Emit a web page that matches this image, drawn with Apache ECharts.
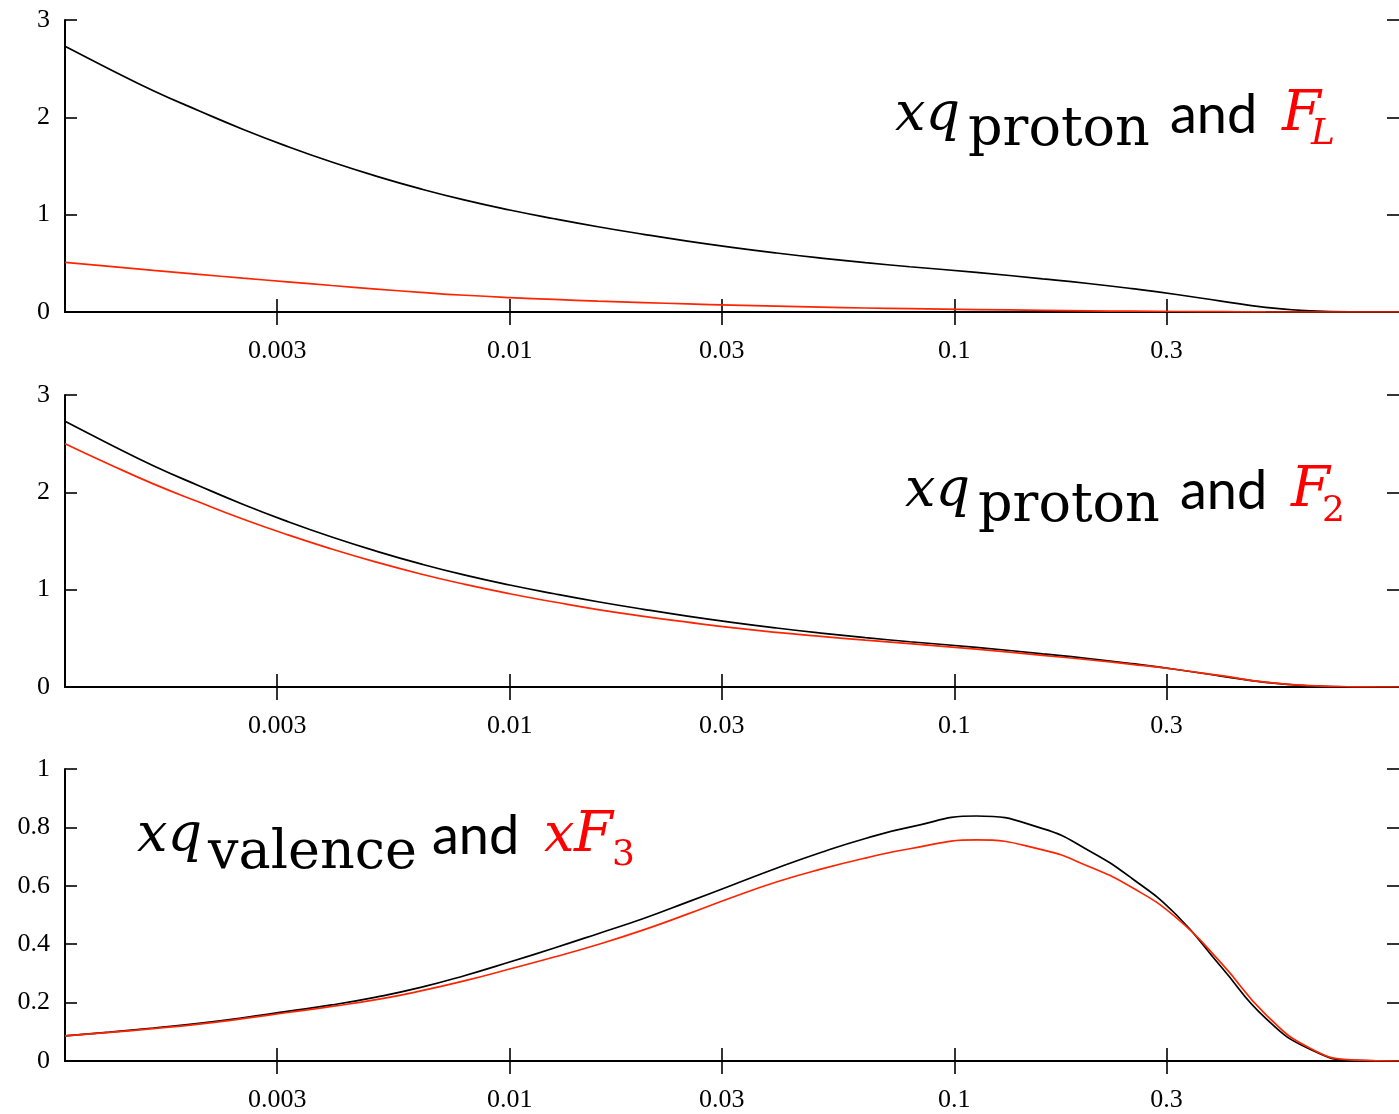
<!DOCTYPE html>
<html>
<head>
<meta charset="utf-8">
<script src="https://cdn.jsdelivr.net/npm/echarts@6/dist/echarts.min.js"></script>
<style>
html,body{margin:0;padding:0;background:#fff;}
#c{width:1399px;height:1114px;}
</style>
</head>
<body>
<div id="c"></div>
<script>
// Bjorken-x sample points
const xValues = [0.001, 0.00126, 0.00158, 0.002, 0.00251, 0.00316, 0.00398, 0.00501, 0.00631, 0.00794,
  0.01, 0.0126, 0.0158, 0.02, 0.0251, 0.0316, 0.0398, 0.0501, 0.0631, 0.0794,
  0.112, 0.158, 0.2, 0.251, 0.316, 0.398, 0.501, 0.631, 0.794, 1.0];
// panel 1 & 2 black: x q_proton
const xqProton = [2.73, 2.495, 2.274, 2.068, 1.878, 1.702, 1.541, 1.396, 1.265, 1.149,
  1.048, 0.958, 0.876, 0.798, 0.728, 0.664, 0.606, 0.554, 0.507, 0.465,
  0.407, 0.341, 0.293, 0.24, 0.18, 0.112, 0.048, 0.012, 0.001, 0];
// panel 1 red: F_L
const FL = [0.51, 0.468, 0.427, 0.387, 0.348, 0.31, 0.272, 0.236, 0.202, 0.172,
  0.148, 0.129, 0.112, 0.097, 0.083, 0.071, 0.06, 0.05, 0.041, 0.034,
  0.025, 0.017, 0.012, 0.008, 0.005, 0.003, 0.001, 0, 0, 0];
// panel 2 red: F_2
const F2 = [2.50, 2.287, 2.087, 1.90, 1.726, 1.565, 1.418, 1.283, 1.161, 1.054,
  0.958, 0.873, 0.795, 0.726, 0.666, 0.61, 0.562, 0.52, 0.481, 0.445,
  0.389, 0.325, 0.28, 0.233, 0.18, 0.116, 0.05, 0.014, 0.002, 0];
// panel 3 black: x q_valence
const xqValence = [0.086, 0.099, 0.113, 0.129, 0.148, 0.17, 0.192, 0.219, 0.252, 0.293,
  0.339, 0.387, 0.436, 0.488, 0.544, 0.602, 0.66, 0.714, 0.762, 0.801,
  0.839, 0.796, 0.722, 0.625, 0.50, 0.323, 0.147, 0.04, 0.002, 0];
// panel 3 red: x F_3
const xF3 = [0.086, 0.098, 0.111, 0.126, 0.145, 0.166, 0.187, 0.21, 0.24, 0.275,
  0.315, 0.356, 0.399, 0.449, 0.503, 0.56, 0.613, 0.657, 0.695, 0.727,
  0.757, 0.723, 0.667, 0.594, 0.49, 0.336, 0.16, 0.044, 0.003, 0];

const xTickValues = [0.003, 0.01, 0.03, 0.1, 0.3];
const xTickLabels = ['0.003', '0.01', '0.03', '0.1', '0.3'];

const panelTops = [20, 395, 769];
const panelYMax = [3, 3, 1];
const panelYInterval = [1, 1, 0.2];
const panelBlack = [xqProton, xqProton, xqValence];
const panelRed = [FL, F2, xF3];

const BLACK = '#000000';
const RED = '#ff2400';
const TEXT_RED = '#ff0000';

function pairs(vals) { return xValues.map((x, i) => [x, vals[i]]); }
function xLabel(v) {
  let best = 0, bd = Infinity;
  xTickValues.forEach((t, i) => { const d = Math.abs(Math.log10(v) - Math.log10(t)); if (d < bd) { bd = d; best = i; } });
  return xTickLabels[best];
}

const grids = [], xAxes = [], yAxes = [], series = [];
panelTops.forEach((top, i) => {
  grids.push({ left: 65, right: -3, top: top, height: 292, containLabel: false });
  const xCommon = {
    type: 'log', logBase: 10, gridIndex: i, min: 0.001, max: 1,
    axisLine: { show: true, lineStyle: { color: BLACK, width: 2 } },
    axisTick: { show: true, inside: true, length: 13, lineStyle: { color: BLACK, width: 1.6 }, customValues: xTickValues },
    splitLine: { show: false }, minorTick: { show: false }
  };
  xAxes.push(Object.assign({}, xCommon, {
    position: 'bottom',
    axisLabel: { show: true, customValues: xTickValues, formatter: xLabel, margin: 26,
      fontFamily: 'Liberation Serif', fontSize: 26, color: BLACK }
  }));
  xAxes.push(Object.assign({}, xCommon, { position: 'top', axisLabel: { show: false } }));
  const yCommon = {
    type: 'value', gridIndex: i, min: 0, max: panelYMax[i], interval: panelYInterval[i],
    splitLine: { show: false },
    axisTick: { show: true, inside: true, length: 12, lineStyle: { color: BLACK, width: 1.6 } }
  };
  yAxes.push(Object.assign({}, yCommon, {
    position: 'left',
    axisLine: { show: true, lineStyle: { color: BLACK, width: 2 } },
    axisLabel: { show: true, margin: 15, fontFamily: 'Liberation Serif', fontSize: 26, color: BLACK }
  }));
  yAxes.push(Object.assign({}, yCommon, {
    position: 'right',
    axisLine: { show: false },
    axisLabel: { show: false }
  }));
  [[panelBlack[i], BLACK], [panelRed[i], RED]].forEach(([vals, col]) => {
    series.push({
      type: 'line', xAxisIndex: 2 * i, yAxisIndex: 2 * i,
      data: pairs(vals), showSymbol: false, smooth: 0.5, clip: true,
      lineStyle: { color: col, width: 1.7 }, itemStyle: { color: col }
    });
  });
});

function txt(text, x, baseline, size, family, style, color) {
  const mid = baseline - 0.3 * size;
  return { type: 'text', x: x, y: mid, z: 100,
    style: { text: text, fill: color, fontSize: size, fontFamily: family, fontStyle: style,
      align: 'left', verticalAlign: 'middle' } };
}
const SERIF = 'DejaVu Serif';
const SANS = 'Lato';
const graphics = [
  // panel 1
  txt('xq', 895, 132, 54, SERIF, 'italic', BLACK),
  txt('proton', 968, 147, 54, SERIF, 'normal', BLACK),
  txt('and', 1170, 132, 54, SANS, 'normal', BLACK),
  txt('F', 1282, 132, 56, SERIF, 'italic', TEXT_RED),
  txt('L', 1311, 145, 36, SERIF, 'italic', TEXT_RED),
  // panel 2
  txt('xq', 905, 508, 54, SERIF, 'italic', BLACK),
  txt('proton', 978, 523, 54, SERIF, 'normal', BLACK),
  txt('and', 1180, 508, 54, SANS, 'normal', BLACK),
  txt('F', 1291, 508, 56, SERIF, 'italic', TEXT_RED),
  txt('2', 1322, 522, 36, SERIF, 'normal', TEXT_RED),
  // panel 3
  txt('xq', 137, 853, 54, SERIF, 'italic', BLACK),
  txt('valence', 208, 870, 54, SERIF, 'normal', BLACK),
  txt('and', 432, 853, 54, SANS, 'normal', BLACK),
  txt('x', 544, 853, 54, SERIF, 'italic', TEXT_RED),
  txt('F', 574, 853, 56, SERIF, 'italic', TEXT_RED),
  txt('3', 612, 866, 36, SERIF, 'normal', TEXT_RED)
];

const chart = echarts.init(document.getElementById('c'), null, { renderer: 'canvas' });
chart.setOption({
  animation: false,
  backgroundColor: '#ffffff',
  grid: grids,
  xAxis: xAxes,
  yAxis: yAxes,
  series: series,
  graphic: graphics
});
</script>
</body>
</html>
